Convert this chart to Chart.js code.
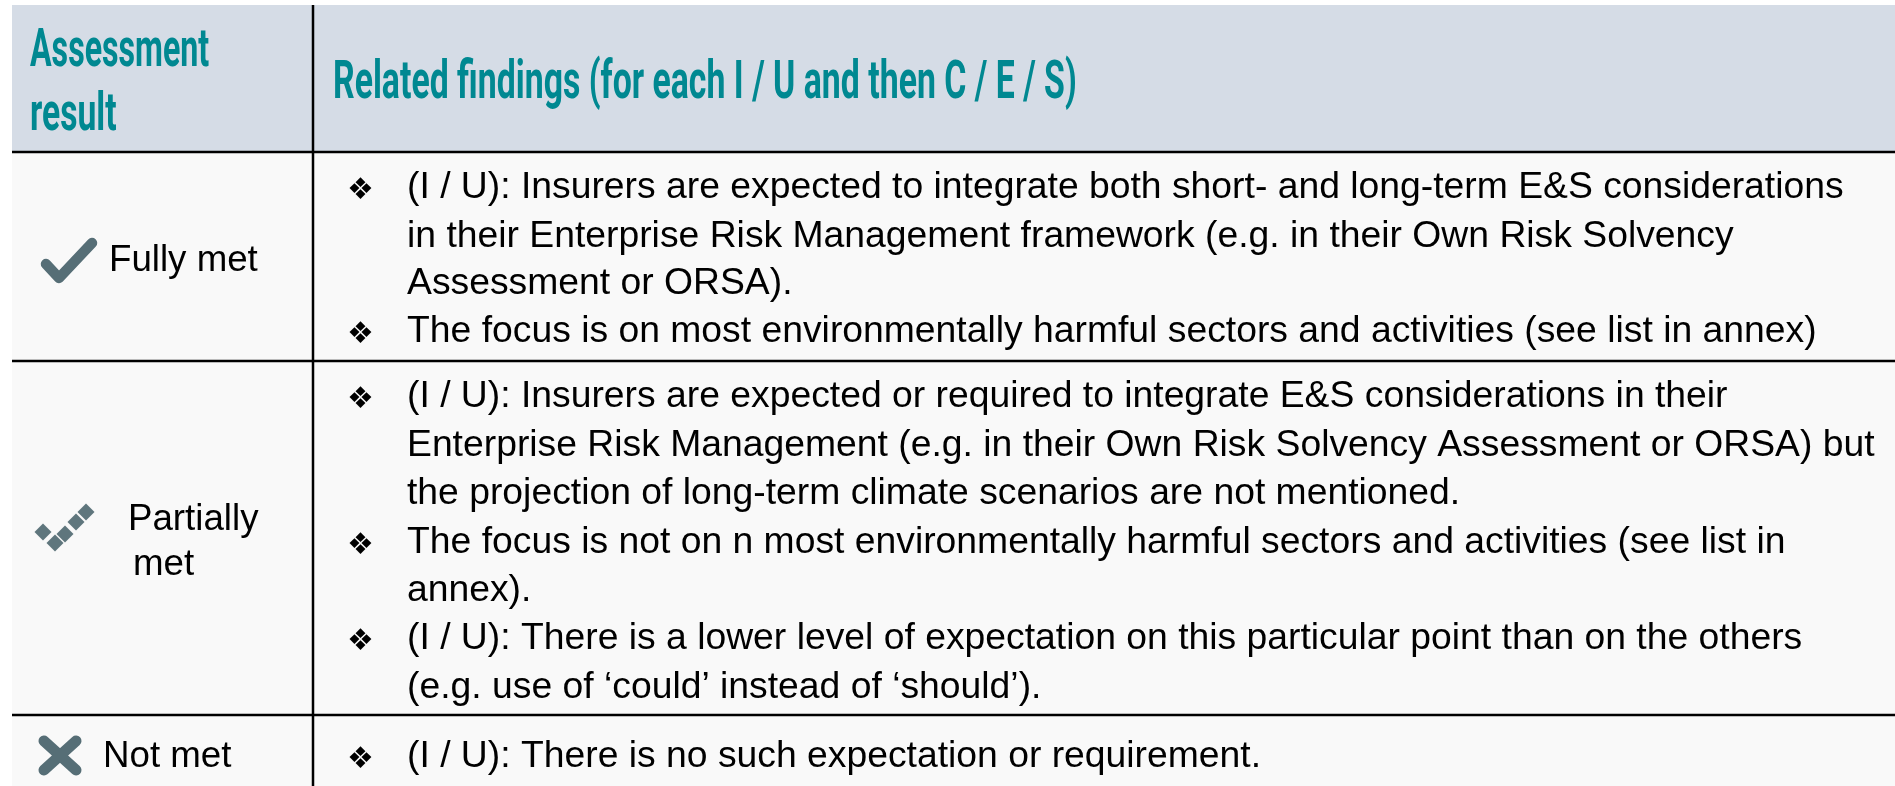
<!DOCTYPE html>
<html>
<head>
<meta charset="utf-8">
<style>
  html, body { margin: 0; padding: 0; background: #ffffff; overflow: hidden; }
  canvas { display: block; }
</style>
<script src="https://cdn.jsdelivr.net/npm/chart.js@4"></script>
</head>
<body>
<canvas id="tabela" width="1895" height="786"></canvas>
<script>
// text of the table
const headers = ['Assessment', 'result', 'Related findings (for each I / U and then C / E / S)'];
const results = ['Fully met', 'Partially', 'met', 'Not met'];
const findings = [
  '(I / U): Insurers are expected to integrate both short- and long-term E&S considerations',
  'in their Enterprise Risk Management framework (e.g. in their Own Risk Solvency',
  'Assessment or ORSA).',
  'The focus is on most environmentally harmful sectors and activities (see list in annex)',
  '(I / U): Insurers are expected or required to integrate E&S considerations in their',
  'Enterprise Risk Management (e.g. in their Own Risk Solvency Assessment or ORSA) but',
  'the projection of long-term climate scenarios are not mentioned.',
  'The focus is not on n most environmentally harmful sectors and activities (see list in',
  'annex).',
  '(I / U): There is a lower level of expectation on this particular point than on the others',
  '(e.g. use of \u2018could\u2019 instead of \u2018should\u2019).',
  '(I / U): There is no such expectation or requirement.'
];

// where the text sits on the scales
const headerX = [30, 30, 333];
const headerY = [66, 130, 98];
const resultX = [109, 128, 133, 103];
const resultY = [271, 530, 575, 767];
const findingY = [198, 247, 294, 342, 407, 456, 504, 553, 601, 649, 698, 767];
const bulletY = [198, 342, 407, 553, 649, 767];

// table rules
const ruleRows = [152, 361, 715];
const ruleColumn = 313;

// result icons
const checkX = [46, 59, 92];
const checkY = [264, 278, 243];
const partialX = [43, 55, 65, 76, 86];
const partialY = [532, 543, 534, 522, 512];
const crossAX = [44, 76];
const crossAY = [741, 770];
const crossBX = [76, 44];
const crossBY = [741, 770];

function pts(xs, ys) {
  return xs.map((x, i) => ({ x: x, y: ys[i] }));
}

function linha(xs, ys, cor, largura, extra) {
  return Object.assign({
    type: 'line',
    data: pts(xs, ys),
    borderColor: cor,
    backgroundColor: cor,
    borderWidth: largura,
    pointRadius: 0,
    tension: 0
  }, extra || {});
}

// first dataset ends up on top, so the bands go last
const datasets = [];
ruleRows.forEach(y => datasets.push(linha([12, 1895], [y, y], '#000000', 2.5)));
datasets.push(linha([ruleColumn, ruleColumn], [5, 786], '#000000', 2.5));
datasets.push(linha(checkX, checkY, '#566e76', 10.5, { borderCapStyle: 'round', borderJoinStyle: 'round' }));
datasets.push(linha(crossAX, crossAY, '#566e76', 11, { borderCapStyle: 'round' }));
datasets.push(linha(crossBX, crossBY, '#566e76', 11, { borderCapStyle: 'round' }));
datasets.push({
  type: 'scatter',
  data: pts(partialX, partialY),
  pointStyle: 'rectRot',
  pointRadius: 8.5,
  backgroundColor: '#5f767d',
  borderWidth: 0
});
datasets.push(linha([12, 1895], [5, 5], 'rgba(0,0,0,0)', 0, { fill: { value: 152 }, backgroundColor: '#d5dce6' }));
datasets.push(linha([12, 1895], [152, 152], 'rgba(0,0,0,0)', 0, { fill: { value: 786 }, backgroundColor: '#f9f9f9' }));

const findingFont = '37.3px "Liberation Sans"';
const resultFont = '36.7px "Liberation Sans"';
const headFont = '700 53px Roboto';
const headStretch = [0.607, 0.635, 0.638];

function texto(ctx, s, x, y, font, cor, stretch) {
  ctx.save();
  ctx.font = font;
  ctx.fillStyle = cor;
  ctx.textBaseline = 'alphabetic';
  ctx.translate(x, y);
  ctx.scale(stretch, 1);
  ctx.fillText(s, 0, 0);
  ctx.restore();
}

const textoTabela = {
  id: 'textoTabela',
  afterDraw(chart) {
    const ctx = chart.ctx;
    const sx = chart.scales.x, sy = chart.scales.y;
    headers.forEach((s, i) => texto(ctx, s, sx.getPixelForValue(headerX[i]), sy.getPixelForValue(headerY[i]), headFont, '#008891', headStretch[i]));
    results.forEach((s, i) => texto(ctx, s, sx.getPixelForValue(resultX[i]), sy.getPixelForValue(resultY[i]), resultFont, '#000000', 1));
    findings.forEach((s, i) => texto(ctx, s, sx.getPixelForValue(407), sy.getPixelForValue(findingY[i]), findingFont, '#000000', 1));
    bulletY.forEach(y => texto(ctx, '\u2756', sx.getPixelForValue(347), sy.getPixelForValue(y + 1), '30px "DejaVu Sans"', '#000000', 1));
  }
};

new Chart(document.getElementById('tabela'), {
  data: { datasets: datasets },
  options: {
    responsive: false,
    animation: false,
    layout: { padding: 0, autoPadding: false },
    plugins: { legend: { display: false }, tooltip: { enabled: false }, title: { display: false } },
    scales: {
      x: { type: 'linear', min: 0, max: 1895, display: false },
      y: { type: 'linear', min: 0, max: 786, reverse: true, display: false }
    }
  },
  plugins: [textoTabela]
});
</script>
</body>
</html>
